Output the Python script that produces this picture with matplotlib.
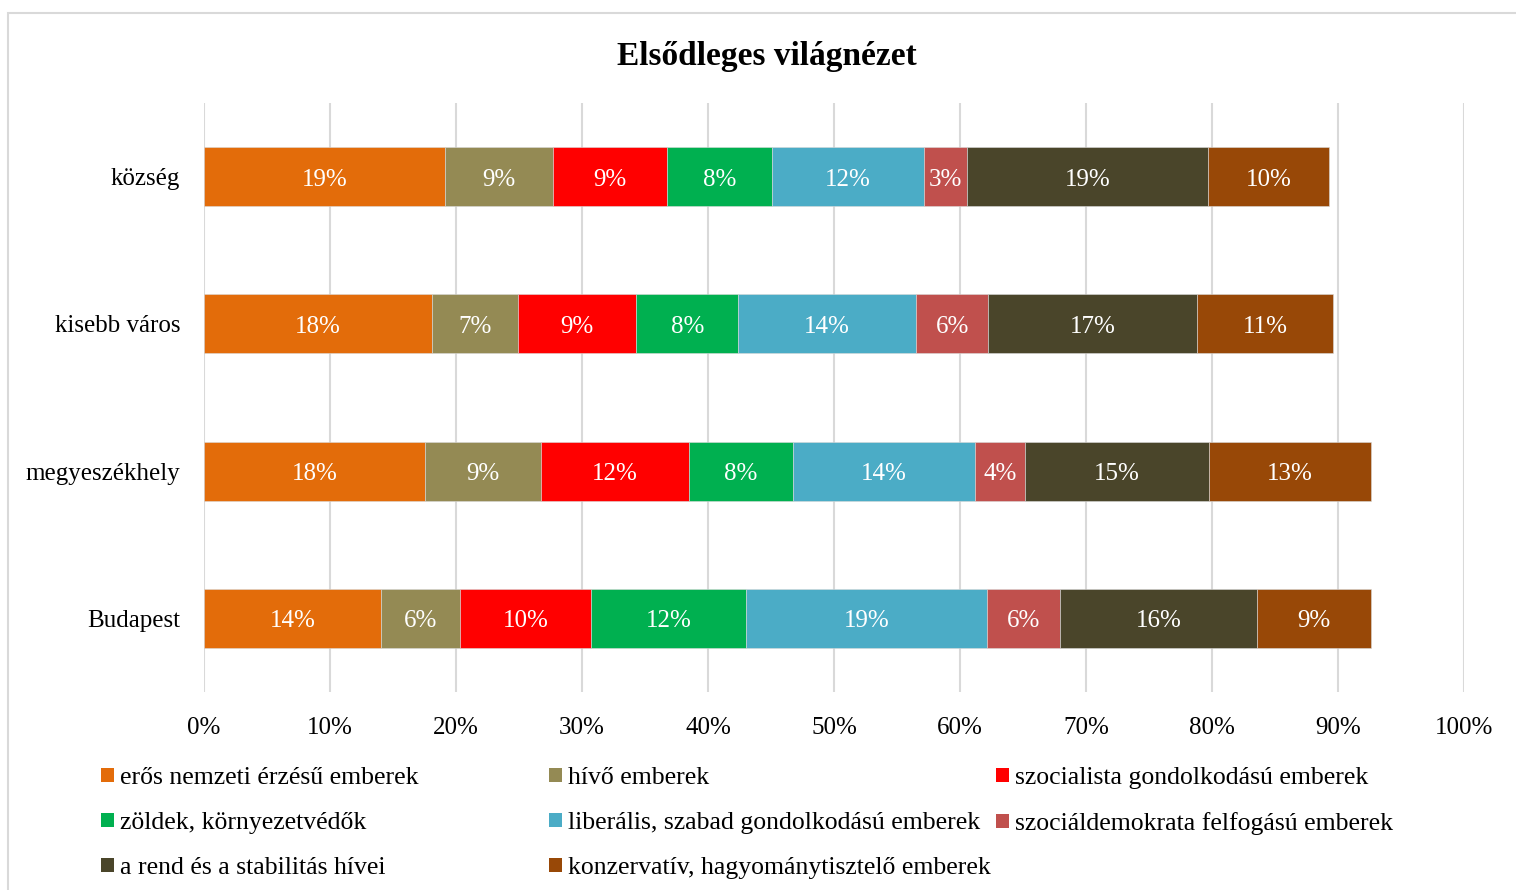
# -*- coding: utf-8 -*-

import matplotlib
matplotlib.use('Agg')
import matplotlib.pyplot as plt
import matplotlib.ticker as mtick
from matplotlib.patches import Rectangle, Patch
import numpy as np

plt.rcParams['font.family'] = ['Liberation Serif', 'DejaVu Serif']

#----- data (percent)
places = ['község', 'kisebb város', 'megyeszékhely', 'Budapest']
groups = ['erős nemzeti érzésű emberek', 'hívő emberek', 'szocialista gondolkodású emberek',
          'zöldek, környezetvédők', 'liberális, szabad gondolkodású emberek',
          'szociáldemokrata felfogású emberek', 'a rend és a stabilitás hívei',
          'konzervatív, hagyománytisztelő emberek']
kozseg = [19.13, 8.57, 9.05, 8.33, 12.06, 3.41, 19.13, 9.60]
kisebb_varos = [18.10, 6.83, 9.37, 8.10, 14.13, 5.71, 16.59, 10.79]
megyeszekhely = [17.54, 9.21, 11.75, 8.25, 14.45, 3.97, 14.60, 12.86]
budapest = [14.05, 6.27, 10.40, 12.30, 19.13, 5.79, 15.63, 9.05]
colors = ['#E36C0A', '#948A54', '#FF0000', '#00B050', '#4BACC6', '#C0504D', '#4A452A', '#984807']

#-----
values = np.array([kozseg, kisebb_varos, megyeszekhely, budapest])

fig = plt.figure(figsize=(15.16, 8.9), dpi=100)
ax = fig.add_axes([204/1516, 1 - 692/890, 1260/1516, 589/890])

y = np.arange(len(places))
left = np.zeros(len(places))
for j in range(len(groups)):
    bars = ax.barh(y, values[:, j], left=left, height=0.4, color=colors[j],
                   edgecolor='#D9D9D9', linewidth=0.4, label=groups[j], zorder=3)
    for i, b in enumerate(bars):
        ax.text(left[i] + values[i, j] / 2, y[i] + 0.02, f"{values[i, j]:.0f}%", color='white',
                ha='center', va='center', fontsize=18, zorder=4)
    left += values[:, j]

ax.set_xlim(0, 100)
ax.set_ylim(3.5, -0.5)
ax.set_yticks(y)
ax.set_yticklabels(places, fontsize=18)
ax.set_xticks(np.arange(0, 101, 10))
ax.xaxis.set_major_formatter(mtick.PercentFormatter(decimals=0))
ax.tick_params(axis='x', labelsize=18, length=0, pad=18)
ax.tick_params(axis='y', length=0, pad=17)
ax.grid(axis='x', color='#D9D9D9', lw=1.5, zorder=0)
for s in ax.spines.values():
    s.set_visible(False)

fig.text(767/1516, 1 - 56/890, 'Elsődleges világnézet', ha='center', va='center',
         fontsize=24, fontweight='bold')

# legend: three columns, placed like in the original
handles = [Patch(facecolor=c) for c in colors]
cols = [[0, 3, 6], [1, 4, 7], [2, 5]]
col_x = [101, 549, 996]
for cx, idx in zip(col_x, cols):
    fig.legend([handles[k] for k in idx], [groups[k] for k in idx], loc='upper left',
               bbox_to_anchor=(cx/1516, 1 - 767/890), frameon=False, fontsize=18.5,
               handlelength=0.5, handleheight=0.5, handletextpad=0.25, labelspacing=0.9,
               borderaxespad=0, borderpad=0)

# chart frame
fig.add_artist(Rectangle((8/1516, -0.05), 1.1, 1 - 13/890 + 0.05, transform=fig.transFigure,
                         fill=False, edgecolor='#D9D9D9', lw=1.5))

plt.savefig('out.png', dpi=100)
